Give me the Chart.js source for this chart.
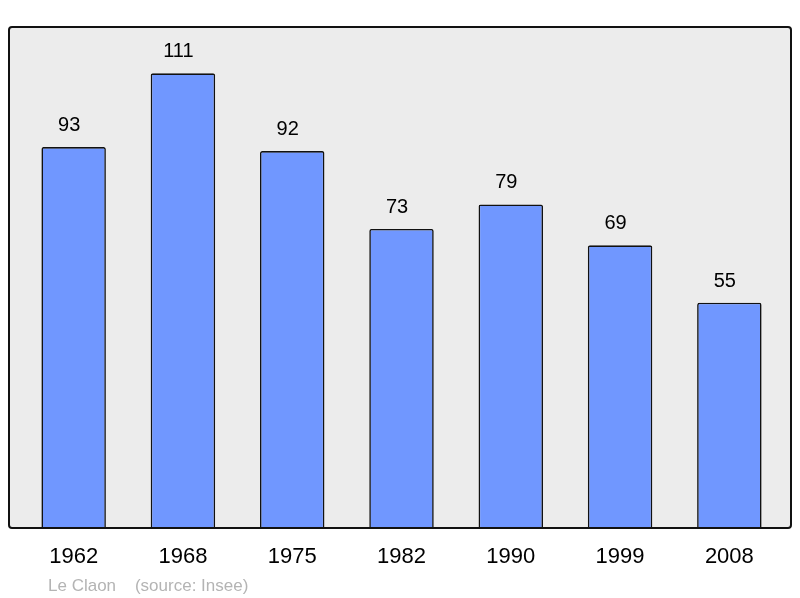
<!DOCTYPE html>
<html>
<head>
<meta charset="utf-8">
<script src="https://cdn.jsdelivr.net/npm/chart.js@4/dist/chart.umd.min.js"></script>
<style>
  html, body { margin: 0; padding: 0; background: #fff; }
  #wrap { width: 800px; height: 598px; }
</style>
</head>
<body>
<div id="wrap"><canvas id="popChart" width="800" height="598"></canvas></div>
<script>
const years = ["1962", "1968", "1975", "1982", "1990", "1999", "2008"];
const population = [93, 111, 92, 73, 79, 69, 55];
const yMax = 122.3;
const footerText = "Le Claon    (source: Insee)";

// grey framed box behind the bars
const frameBox = {
    id: 'frameBox',
    beforeDatasetsDraw(chart) {
        const ctx = chart.ctx;
        ctx.save();
        ctx.beginPath();
        ctx.roundRect(9, 27, 782, 501, 3);
        ctx.fillStyle = '#ececec';
        ctx.fill();
        ctx.restore();
    },
    afterDatasetsDraw(chart) {
        const ctx = chart.ctx;
        ctx.save();
        ctx.beginPath();
        ctx.roundRect(9, 27, 782, 501, 3);
        ctx.lineWidth = 2;
        ctx.strokeStyle = '#111';
        ctx.stroke();
        ctx.restore();
    }
};

// value labels above bars + footer
const valueLabels = {
    id: 'valueLabels',
    afterDraw(chart) {
        const ctx = chart.ctx;
        const meta = chart.getDatasetMeta(0);
        ctx.save();
        ctx.font = '20px "Liberation Sans", Arial, sans-serif';
        ctx.fillStyle = '#000';
        ctx.textAlign = 'center';
        ctx.textBaseline = 'middle';
        meta.data.forEach((bar, i) => {
            ctx.fillText(String(population[i]), bar.x - 4.5, bar.y - 21.5);
        });
        ctx.font = '17px "Liberation Sans", Arial, sans-serif';
        ctx.fillStyle = '#b4b4b4';
        ctx.textAlign = 'left';
        ctx.fillText(footerText, 48, 586);
        ctx.restore();
    }
};

new Chart(document.getElementById('popChart').getContext('2d'), {
    type: 'bar',
    data: {
        labels: years,
        datasets: [{
            data: population,
            backgroundColor: '#7097ff',
            borderColor: '#111',
            borderWidth: 1.6,
            borderSkipped: 'bottom',
            borderRadius: 2,
            barPercentage: 0.59,
            categoryPercentage: 1
        }]
    },
    options: {
        responsive: false,
        animation: false,
        layout: { padding: { left: 19, right: 16, top: 27, bottom: 0 } },
        scales: {
            x: {
                grid: { display: false, drawTicks: false },
                border: { display: false },
                ticks: {
                    padding: 16,
                    color: '#000',
                    font: { family: '"Liberation Sans", Arial, sans-serif', size: 22 }
                },
                afterFit(scale) { scale.height = 70; }
            },
            y: {
                display: false,
                min: 0,
                max: yMax
            }
        },
        plugins: {
            legend: { display: false },
            tooltip: { enabled: false }
        }
    },
    plugins: [frameBox, valueLabels]
});
</script>
</body>
</html>
